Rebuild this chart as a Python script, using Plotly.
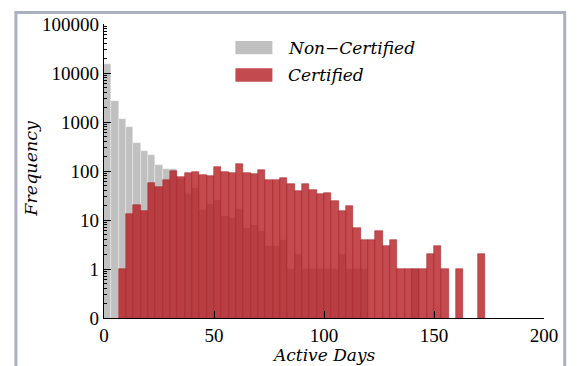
import plotly.graph_objects as go

# ---------------- data (histogram counts per bin, bin width = 10/3 days) ----------------
bin_width = 10 / 3
non_certified = [15000, 2700, 1150, 800, 370, 260, 215, 133, 110, 112,
                 70, 34, 46, 16, 21, 26, 12, 11, 17, 7,
                 8, 6, 3, 3, 4, 1, 2, 1, 1, 1,
                 1, 1, 2, 1, 1, 1, 0, 0, 0, 0,
                 0, 0, 1, 0, 0, 0, 0, 0, 0, 0,
                 0, 0]
certified = [0, 0, 1, 13, 20, 15, 57, 48, 67, 101,
             76, 92, 96, 84, 78, 122, 95, 91, 141, 91,
             87, 105, 65, 65, 72, 55, 39, 55, 41, 34,
             35, 25, 15, 19, 7, 4, 4, 6, 3, 4,
             1, 1, 1, 1, 2, 3, 1, 0, 1, 0,
             0, 2]
y_tick_vals = [0.1, 1, 10, 100, 1000, 10000, 100000]
y_tick_text = ["0", "1", "10", "100", "1000", "10000", "100000"]
x_tick_vals = [0, 50, 100, 150, 200]

centers = [(i + 0.5) * bin_width for i in range(len(certified))]

def nz(vals):
    return [v if v > 0 else None for v in vals]

GRAY = "rgb(192,192,192)"
RED = "rgba(180,30,35,0.8)"
RED_SWATCH = "rgb(195,75,79)"
SERIF = "Liberation Serif"
ITAL = "DejaVu Serif"

fig = go.Figure()
fig.add_trace(go.Bar(x=centers, y=nz(non_certified), width=bin_width,
                     marker=dict(color=GRAY, line=dict(color="rgba(255,255,255,0.6)", width=0.5)),
                     name="Non−Certified", showlegend=False))
fig.add_trace(go.Bar(x=centers, y=nz(certified), width=bin_width,
                     marker=dict(color=RED, line=dict(color="rgba(170,30,35,0.9)", width=0.6)),
                     name="Certified", showlegend=False))

minor_vals = [k * 10 ** d for d in range(-1, 5) for k in range(2, 10)]

fig.update_layout(
    width=577, height=366,
    margin=dict(l=104.3, r=32.7, t=24, b=48),
    paper_bgcolor="white", plot_bgcolor="white",
    barmode="overlay", bargap=0,
    font=dict(family=SERIF, size=19, color="black"),
    xaxis=dict(range=[0, 200], tickvals=x_tick_vals, ticks="inside", ticklen=7,
               tickwidth=1, tickcolor="black", showline=True, linecolor="black",
               linewidth=1.2, showgrid=False, zeroline=False,
               tickfont=dict(family=SERIF, size=19)),
    yaxis=dict(type="log", range=[-1, 5], tickvals=y_tick_vals, ticktext=y_tick_text,
               ticks="inside", ticklen=7, tickwidth=1, tickcolor="black",
               showline=True, linecolor="black", linewidth=1.2, showgrid=False,
               zeroline=False, tickfont=dict(family=SERIF, size=19),
               minor=dict(tickvals=minor_vals, ticks="inside", ticklen=3,
                          tickcolor="black", tickwidth=0.8, showgrid=False)),
)

def px_x(x):
    return (x - 104.3) / 440

def px_y(y):
    return (318 - y) / 294

# axis titles
fig.add_annotation(text="<i>Active Days</i>", xref="paper", yref="paper",
                   x=px_x(324.5), y=px_y(355), showarrow=False,
                   font=dict(family=ITAL, size=17), xanchor="center", yanchor="middle")
fig.add_annotation(text="<i>Frequency</i>", xref="paper", yref="paper",
                   x=px_x(31), y=px_y(168), showarrow=False, textangle=-90,
                   font=dict(family=ITAL, size=17.5), xanchor="center", yanchor="middle")

# legend (manual, to match long swatches)
for (y0, y1, col, label) in [(41, 54.3, GRAY, "Non−Certified"), (68.3, 81.7, RED_SWATCH, "Certified")]:
    fig.add_shape(type="rect", xref="paper", yref="paper",
                  x0=px_x(235.7), x1=px_x(272.7), y0=px_y(y1), y1=px_y(y0),
                  fillcolor=col, line=dict(width=0))
    fig.add_annotation(text="<i>" + label + "</i>", xref="paper", yref="paper",
                       x=px_x(286), y=px_y((y0 + y1) / 2), showarrow=False,
                       font=dict(family=ITAL, size=17), xanchor="left", yanchor="middle")

# outer frame
fig.add_shape(type="rect", xref="paper", yref="paper",
              x0=px_x(16.2), x1=px_x(565), y0=px_y(380), y1=px_y(12.5),
              line=dict(color="rgb(172,175,192)", width=3), fillcolor="rgba(0,0,0,0)",
              layer="above")

fig.write_html("out.html")
